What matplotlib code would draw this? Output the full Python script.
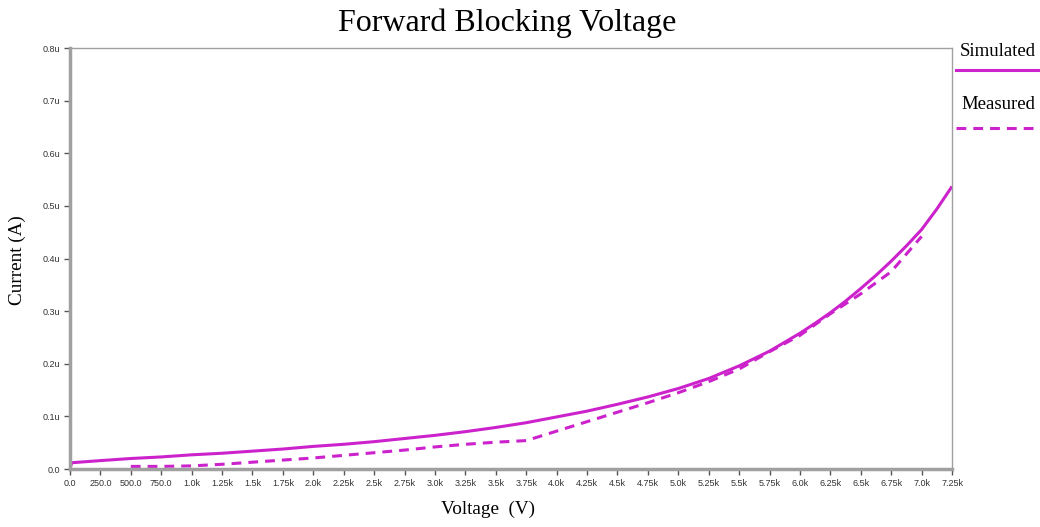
import matplotlib
matplotlib.use("Agg")
import matplotlib.pyplot as plt
from matplotlib.lines import Line2D

# Simulated forward-blocking leakage current (V, uA)
sim_voltage = [0, 15, 250, 500, 750, 1000, 1250, 1500, 1750, 2000, 2250, 2500,
               2750, 3000, 3250, 3500, 3750, 4000, 4250, 4500, 4750, 5000,
               5250, 5500, 5750, 6000, 6125, 6250, 6375, 6500, 6625, 6750,
               6875, 7000, 7125, 7250]
sim_current = [0.002, 0.012, 0.016, 0.020, 0.023, 0.027, 0.030, 0.034, 0.038,
               0.043, 0.047, 0.052, 0.058, 0.064, 0.071, 0.079, 0.088, 0.099,
               0.110, 0.123, 0.137, 0.153, 0.172, 0.196, 0.224, 0.258, 0.277,
               0.297, 0.319, 0.343, 0.368, 0.395, 0.424, 0.455, 0.494, 0.537]

# Measured leakage current (V, uA)
meas_voltage = [500, 750, 1000, 1250, 1500, 1750, 2000, 2250, 2500, 2750, 3000,
                3250, 3500, 3750, 4000, 4250, 4500, 4750, 5000, 5250, 5500,
                5750, 6000, 6250, 6500, 6750, 7000]
meas_current = [0.005, 0.005, 0.006, 0.009, 0.013, 0.017, 0.021, 0.026, 0.031,
                0.036, 0.042, 0.047, 0.051, 0.054, 0.072, 0.090, 0.108, 0.126,
                0.145, 0.166, 0.190, 0.223, 0.254, 0.295, 0.333, 0.375, 0.442]

x_ticks = [i * 250 for i in range(30)]
x_tick_labels = ["0.0", "250.0", "500.0", "750.0", "1.0k", "1.25k", "1.5k",
                 "1.75k", "2.0k", "2.25k", "2.5k", "2.75k", "3.0k", "3.25k",
                 "3.5k", "3.75k", "4.0k", "4.25k", "4.5k", "4.75k", "5.0k",
                 "5.25k", "5.5k", "5.75k", "6.0k", "6.25k", "6.5k", "6.75k",
                 "7.0k", "7.25k"]
y_ticks = [0.0, 0.1, 0.2, 0.3, 0.4, 0.5, 0.6, 0.7, 0.8]
y_tick_labels = ["0.0", "0.1u", "0.2u", "0.3u", "0.4u", "0.5u", "0.6u",
                 "0.7u", "0.8u"]

line_color = "#CC22CC"
spine_color = "#A0A0A0"
serif = "Liberation Serif"
sans = "Liberation Sans"
dash = (0, (3.2, 2.3))

fig = plt.figure(figsize=(10.4, 5.27), dpi=100)
ax = fig.add_axes([0.0673, 0.110, 0.8481, 0.7989])

ax.plot(sim_voltage, sim_current, color=line_color, lw=2.2,
        solid_capstyle="butt")
ax.plot(meas_voltage, meas_current, color=line_color, lw=2.2, linestyle=dash)

ax.set_xlim(0, 7250)
ax.set_ylim(0, 0.8)
ax.set_xticks(x_ticks)
ax.set_xticklabels(x_tick_labels)
ax.set_yticks(y_ticks)
ax.set_yticklabels(y_tick_labels)

ax.tick_params(axis="both", direction="out", length=4, width=1,
               color="#555555", labelsize=6.5, labelcolor="#333333", pad=3)
for lbl in ax.get_xticklabels() + ax.get_yticklabels():
    lbl.set_fontfamily(sans)

for side in ("top", "right"):
    ax.spines[side].set_color(spine_color)
    ax.spines[side].set_linewidth(1.0)
for side in ("left", "bottom"):
    ax.spines[side].set_color(spine_color)
    ax.spines[side].set_linewidth(2.5)

ax.set_xlabel("Voltage  (V)", fontfamily=serif, fontsize=13.8)
ax.xaxis.set_label_coords(0.474, -0.076)
ax.set_ylabel("Current (A)", fontfamily=serif, fontsize=13.8)
ax.yaxis.set_label_coords(-0.050, 0.497)

fig.text(0.488, 0.956, "Forward Blocking Voltage", ha="center", va="center",
         fontfamily=serif, fontsize=23)

# Legend drawn to the right of the plot area
fig.text(0.959, 0.903, "Simulated", ha="center", va="center",
         fontfamily=serif, fontsize=13.5)
fig.add_artist(Line2D([0.919, 1.0], [0.867, 0.867], transform=fig.transFigure,
                      color=line_color, lw=2.2))
fig.text(0.960, 0.801, "Measured", ha="center", va="center",
         fontfamily=serif, fontsize=13.5)
fig.add_artist(Line2D([0.919, 1.0], [0.758, 0.758], transform=fig.transFigure,
                      color=line_color, lw=2.2, linestyle=dash))

fig.savefig("out.png", dpi=100, facecolor="white")
